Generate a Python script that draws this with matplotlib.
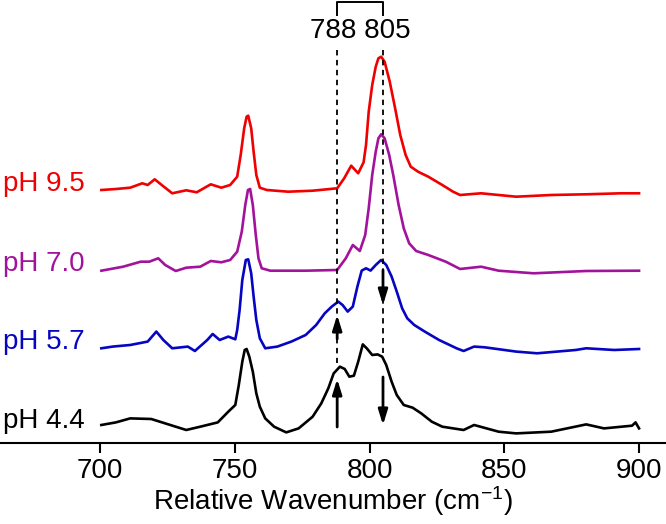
import matplotlib
matplotlib.use('Agg')
import matplotlib.pyplot as plt

plt.rcParams['font.family'] = ['Liberation Sans', 'DejaVu Sans']
plt.rcParams['mathtext.default'] = 'regular'

# spectra: wavenumber (cm-1) and intensity (a.u., above own baseline)
red_wn = [700.5, 705.9, 711.2, 715.7, 717.7, 720.3, 722.9, 726.8, 732.0, 735.9, 741.1, 745.0,
          748.3, 750.9, 752.2, 753.5, 754.4, 755.0, 756.1, 757.0, 758.0, 759.3, 761.9, 769.8,
          778.9, 788.0, 790.6, 793.2, 795.8, 797.8, 798.7, 799.7, 801.0, 802.3, 803.3, 804.3,
          805.6, 807.5, 809.5, 811.4, 813.4, 815.3, 818.0, 821.8, 827.0, 831.0, 833.6, 841.4,
          854.4, 867.4, 880.4, 893.4, 900.0]
red_int = [0, 1, 2.3, 6.7, 5, 10.7, 5, -3.3, -0.3, -2.3, 5.7, 2.3,
           5, 13.3, 35, 61.7, 73.3, 74.3, 61.7, 38.3, 15, 2.3, 0, -1.7,
           -0.7, 1.7, 11.7, 24.3, 16.7, 27.7, 45, 78.3, 105, 123.3, 131.7, 133.3,
           128.3, 108.3, 81.7, 55, 35, 23.3, 18.3, 13.3, 5, -1.7, -5, -3.3,
           -6.7, -5, -4.3, -3.3, -3.3]

purple_wn = [700.5, 708.6, 715.1, 718.3, 721.6, 724.2, 728.1, 732.0, 737.2, 741.1, 745.0, 748.3,
             750.9, 752.6, 753.9, 754.9, 755.7, 756.7, 757.8, 758.8, 760.0, 763.2, 776.3, 788.0,
             791.2, 793.8, 796.4, 798.4, 799.7, 801.0, 802.3, 803.3, 804.3, 805.6, 807.3, 808.8,
             810.8, 812.7, 814.7, 817.3, 821.8, 828.3, 833.6, 841.4, 847.9, 860.9, 880.4, 900.0]
purple_int = [-0.7, 3.3, 8.3, 8.3, 11.7, 5, -1, 2.3, 3.3, 9, 7.7, 10,
              18.3, 38.3, 65, 80, 81, 65, 35, 11.7, 1.7, -0.7, -0.7, 0,
              11.7, 25, 19, 35, 61.7, 95, 118.3, 131.7, 135.7, 131.7, 115, 95,
              65, 41.7, 26.7, 19, 15, 8.3, 1, 3.3, -0.7, -3.3, -1, -0.7]

blue_wn = [700.5, 704.7, 711.2, 717.7, 720.9, 723.5, 726.8, 732.6, 735.2, 739.8, 741.8, 744.4,
           747.6, 750.2, 750.9, 751.8, 752.8, 754.1, 755.0, 756.1, 757.0, 758.0, 759.3, 761.3,
           765.8, 771.0, 776.3, 780.2, 783.4, 786.0, 788.4, 790.0, 791.9, 793.8, 795.5, 797.1,
           798.7, 800.4, 802.3, 804.3, 806.2, 808.2, 810.1, 812.1, 814.0, 816.6, 820.5, 825.8,
           832.3, 834.9, 838.8, 842.7, 854.4, 862.2, 876.5, 880.4, 890.8, 900.0]
blue_int = [0, 1.7, 3.3, 6.7, 16.7, 8.3, 0, 1.7, -2.7, 8.3, 14.3, 8.3,
            11.7, 9, 18.3, 38.3, 68.3, 88.3, 89, 75, 51.7, 28.3, 10, 0,
            1.7, 6.7, 13.3, 23.3, 35, 41.7, 46.7, 43.3, 36.7, 41.7, 61.7, 77.7,
            80, 77.7, 83.3, 88.3, 83.3, 71.7, 56.7, 40, 30, 23.3, 16.7, 8.3,
            0, -2.7, 1.7, 1, -3.3, -5, -1.7, 0, -1.7, -0.7]

black_wn = [700.5, 705.9, 711.2, 719.0, 724.2, 732.0, 737.2, 743.7, 747.6, 750.2, 751.5, 752.8,
            753.7, 754.4, 755.4, 756.7, 758.0, 759.3, 761.3, 764.6, 769.1, 773.7, 778.9, 782.1,
            784.7, 786.7, 789.0, 790.8, 792.5, 794.2, 795.8, 797.5, 799.0, 801.0, 803.0, 804.7,
            806.2, 808.2, 810.1, 812.7, 816.0, 819.2, 823.1, 827.0, 834.9, 838.8, 847.9, 854.4,
            867.4, 880.4, 887.0, 897.4, 898.7, 900.0]
black_int = [1.7, 4.3, 8.3, 7.7, 3.3, -3.3, 0, 4.3, 15, 21.7, 41.7, 65,
             76.7, 77.7, 70, 55, 33.3, 20, 8.3, 0, -5.7, -1.7, 10, 23.3,
             38.3, 53.3, 60, 57.7, 50, 51, 65, 82.3, 78.3, 71.7, 72.3, 70,
             61.7, 45, 31.7, 21.7, 19, 13.3, 5, 0, -3.3, 1.7, -5, -6.7,
             -5, 2.3, -1.7, 1, 4.3, -1.7]

labels = ['pH 9.5', 'pH 7.0', 'pH 5.7', 'pH 4.4']
offsets = [253, 173, 94.7, 16.3]
colors = ['#f00000', '#a3129c', '#0505c3', 'black']
spectra = [(red_wn, red_int), (purple_wn, purple_int), (blue_wn, blue_int), (black_wn, black_int)]

marks = [788, 805]
# (x, tail, tip) of the arrows
arrows = [(788, 104, 128), (805, 173, 138), (788, 16, 64), (805, 66, 18)]

fig = plt.figure(figsize=(6.66, 5.24), dpi=100)
ax = fig.add_axes([0, 0.1546, 1, 0.8454])

for (wn, inten), off, col, lab in zip(spectra, offsets, colors, labels):
    ax.plot(wn, [v + off for v in inten], color=col, lw=1.9)
    ax.text(0.004, off + 6, lab, color=col, fontsize=20, va='center', ha='left',
            transform=ax.get_yaxis_transform())

# dashed guide lines
ax.plot([marks[0], marks[0]], [393, 80], ls=(0, (3, 2.5)), color='black', lw=1.3, zorder=5)
ax.plot([marks[1], marks[1]], [393, 90], ls=(0, (3, 2.5)), color='black', lw=1.3, zorder=5)

# bracket on top
ax.plot([marks[0], marks[0], marks[1], marks[1]], [428, 441, 441, 428], color='black', lw=1.4,
        clip_on=False)
ax.text(sum(marks) / 2, 412, f'{marks[0]} {marks[1]}', fontsize=20, ha='center', va='center')

for x, tail, tip in arrows:
    ax.annotate('', xy=(x, tip), xytext=(x, tail),
                arrowprops=dict(arrowstyle='-|>,head_width=0.28,head_length=0.9',
                                color='black', lw=2, shrinkA=0, shrinkB=0), zorder=6)

ax.set_xlim(662.9, 910)
ax.set_ylim(0, 443)
ax.set_xticks([700, 750, 800, 850, 900])
ax.set_yticks([])
for s in ['left', 'right', 'top']:
    ax.spines[s].set_visible(False)
ax.spines['bottom'].set_linewidth(1.5)
ax.tick_params(axis='x', direction='out', length=7, width=1.5, pad=4, labelsize=20)
ax.set_xlabel('Relative Wavenumber (cm$^{-1}$)', fontsize=20, labelpad=0)
ax.patch.set_alpha(0)

fig.savefig('out.png', dpi=100)
